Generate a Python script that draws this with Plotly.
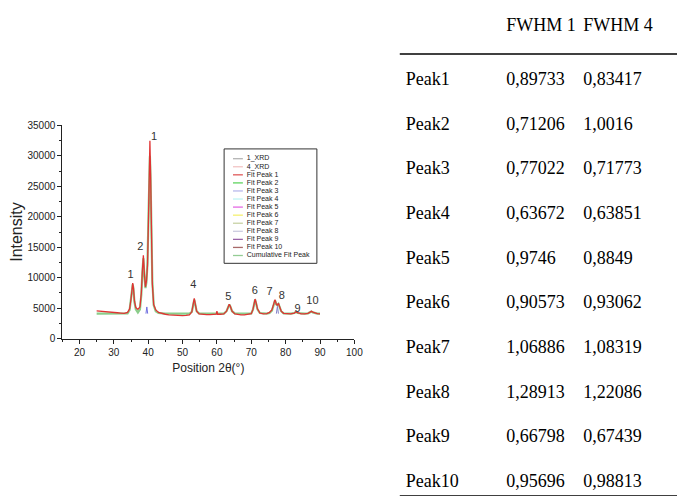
import plotly.graph_objects as go

# ---------------- data ----------------
two_theta = [25, 26, 27, 28, 29, 30, 31, 32, 33, 34, 34.6, 35.0, 35.3, 35.5, 35.7, 36.0, 36.4, 37.0,
             37.6, 38.0, 38.3, 38.6, 38.9, 39.2, 39.5, 39.8, 40.1, 40.3, 40.5, 40.7, 40.9, 41.2, 41.6,
             42.2, 43, 44, 45, 46, 47, 48, 49, 50, 51, 52, 52.7, 53.1, 53.4, 53.7, 54.1, 54.8, 56, 57,
             58, 59, 59.8, 60.0, 60.2, 61, 62, 62.8, 63.3, 63.6, 63.9, 64.4, 65.2, 66, 67, 68, 69, 70,
             70.5, 70.9, 71.1, 71.4, 71.8, 72.5, 73.5, 74.5, 75.3, 76.0, 76.5, 76.9, 77.3, 77.6, 77.9,
             78.2, 78.7, 79.4, 80.5, 81.5, 82.5, 83.0, 83.5, 84.5, 85.5, 86.5, 87.1, 87.5, 87.9, 88.5,
             89.2, 90]

intensity_xrd = [4550, 4480, 4420, 4380, 4330, 4280, 4250, 4200, 4150, 4300, 4900, 6500, 8300, 9100,
                 8400, 6200, 5100, 4800, 5200, 7500, 11000, 13700, 10500, 8500, 9500, 12000, 20000,
                 28000, 32500, 27000, 18000, 9000, 5600, 4700, 4300, 4100, 4000, 3900, 3850, 3800,
                 3780, 3760, 3800, 3900, 4400, 5700, 6600, 5700, 4500, 4050, 3950, 3950, 3950, 3980,
                 4000, 4500, 4000, 4000, 4050, 4500, 5300, 5650, 5300, 4500, 4050, 3950, 3900, 3900,
                 3950, 4100, 4800, 6100, 6500, 5900, 4900, 4200, 4050, 4100, 4300, 4700, 5600, 6400,
                 5600, 5500, 5800, 5300, 4500, 4150, 4050, 4050, 4200, 4400, 4250, 4050, 4050, 4150,
                 4350, 4500, 4350, 4200, 4100, 4050]

cumulative_fit = [4100, 4100, 4100, 4100, 4100, 4100, 4100, 4100, 4100, 4150, 4700, 6300, 8100, 8900,
                  8200, 6000, 4800, 4300, 4800, 7200, 10800, 13200, 10200, 8300, 9300, 12500, 20500,
                  27500, 30000, 26000, 19000, 9500, 5500, 4500, 4200, 4100, 4100, 4100, 4100, 4100,
                  4100, 4100, 4100, 4100, 4400, 5600, 6400, 5600, 4500, 4150, 4100, 4100, 4100, 4100,
                  4100, 4100, 4100, 4100, 4100, 4500, 5300, 5600, 5300, 4500, 4150, 4100, 4100, 4100,
                  4100, 4150, 4800, 6000, 6400, 5800, 4800, 4200, 4100, 4100, 4200, 4600, 5500, 6300,
                  5600, 5500, 5700, 5200, 4500, 4150, 4100, 4100, 4200, 4350, 4200, 4100, 4100, 4150,
                  4300, 4450, 4300, 4150, 4100, 4100]

fit_peak3_x = [39.35, 39.6, 39.85]
fit_peak3_y = [4100, 5200, 4100]
fit_peak8_x = [77.3, 77.6, 77.9]
fit_peak8_y = [4100, 5300, 4100]

peak_label_x = [34.9, 37.7, 41.7, 53.1, 63.3, 71.0, 75.3, 78.9, 83.5, 87.8]
peak_label_y = [10400, 15000, 33000, 8700, 6800, 7800, 7600, 7000, 4800, 6100]
peak_label_text = ["1", "2", "1", "4", "5", "6", "7", "8", "9", "10"]

legend_names = ["1_XRD", "4_XRD", "Fit Peak 1", "Fit Peak 2", "Fit Peak 3", "Fit Peak 4",
                "Fit Peak 5", "Fit Peak 6", "Fit Peak 7", "Fit Peak 8", "Fit Peak 9",
                "Fit Peak 10", "Cumulative Fit Peak"]
legend_colors = ["#b4b4b4", "#f2c4c4", "#e05a5a", "#5fd45f", "#b8b8ec", "#bff4f4", "#e46ae4",
                 "#f4f070", "#c8d2a4", "#cccce0", "#9a64a8", "#a86a6a", "#94cc94"]

table_headers = ["", "FWHM 1", "FWHM 4"]
table_peaks = ["Peak1", "Peak2", "Peak3", "Peak4", "Peak5", "Peak6", "Peak7", "Peak8", "Peak9", "Peak10"]
fwhm_1 = ["0,89733", "0,71206", "0,77022", "0,63672", "0,9746", "0,90573", "1,06886", "1,28913",
          "0,66798", "0,95696"]
fwhm_4 = ["0,83417", "1,0016", "0,71773", "0,63851", "0,8849", "0,93062", "1,08319", "1,22086",
          "0,67439", "0,98813"]

# ---------------- layout constants ----------------
W, H = 685, 496
col_x = [403, 505, 583]
header_y = 14
row_y0, row_step = 69, 45.7
rule_top, rule_bottom = 42, 494
rule_x0 = 397
leg_box = (219, 139, 313, 256)
leg_y0, leg_step = 149, 8.25
leg_line = (228, 238)
leg_text_x = 242

fig = go.Figure()

# data curves on the chart axes
fig.add_trace(go.Scatter(x=two_theta, y=cumulative_fit, mode="lines",
                         line=dict(color="rgba(125,200,125,0.9)", width=2.2), showlegend=False))
fig.add_trace(go.Scatter(x=two_theta, y=intensity_xrd, mode="lines",
                         line=dict(color="#e03434", width=1.3), showlegend=False, hoverinfo="skip"))
fig.add_trace(go.Scatter(x=fit_peak3_x, y=fit_peak3_y, mode="lines",
                         line=dict(color="#7070e0", width=1), showlegend=False))
fig.add_trace(go.Scatter(x=fit_peak8_x, y=fit_peak8_y, mode="lines",
                         line=dict(color="#8080c8", width=1), showlegend=False))
fig.add_trace(go.Scatter(x=peak_label_x, y=peak_label_y, mode="text", text=peak_label_text,
                         textfont=dict(family="Arial, Liberation Sans", size=11, color="#333333"),
                         showlegend=False))

# custom legend (overlay pixel axes)
for i, (name, color) in enumerate(zip(legend_names, legend_colors)):
    yy = leg_y0 + i * leg_step
    fig.add_trace(go.Scatter(x=list(leg_line), y=[yy, yy], mode="lines", xaxis="x2", yaxis="y2",
                             line=dict(color=color, width=1.3), showlegend=False, hoverinfo="skip"))
fig.add_trace(go.Scatter(x=[leg_text_x] * len(legend_names),
                         y=[leg_y0 + i * leg_step for i in range(len(legend_names))],
                         mode="text", text=legend_names, textposition="middle right",
                         textfont=dict(family="Arial, Liberation Sans", size=7, color="#222222"),
                         xaxis="x2", yaxis="y2", showlegend=False))

# table text
serif = dict(family="Liberation Serif, Times New Roman", size=18, color="black")
fig.add_trace(go.Scatter(x=col_x, y=[header_y] * 3, mode="text", text=table_headers,
                         textposition="middle right", textfont=serif,
                         xaxis="x2", yaxis="y2", showlegend=False))
for col, values in zip(col_x, [table_peaks, fwhm_1, fwhm_4]):
    fig.add_trace(go.Scatter(x=[col] * len(values),
                             y=[row_y0 + i * row_step for i in range(len(values))],
                             mode="text", text=values, textposition="middle right", textfont=serif,
                             xaxis="x2", yaxis="y2", showlegend=False))

shapes = [
    dict(type="rect", xref="x2", yref="y2", x0=leg_box[0], y0=leg_box[1], x1=leg_box[2], y1=leg_box[3],
         line=dict(color="#333333", width=1)),
    dict(type="line", xref="x2", yref="y2", x0=rule_x0, x1=W, y0=rule_top, y1=rule_top,
         line=dict(color="black", width=1.5)),
    dict(type="line", xref="x2", yref="y2", x0=rule_x0, x1=W, y0=rule_bottom, y1=rule_bottom,
         line=dict(color="black", width=1.5)),
]

axis_font = dict(family="Arial, Liberation Sans", size=10, color="#222222")
fig.update_layout(
    width=W, height=H, margin=dict(l=0, r=0, t=0, b=0),
    paper_bgcolor="white", plot_bgcolor="rgba(0,0,0,0)",
    showlegend=False, shapes=shapes,
    xaxis=dict(domain=[55 / W, 351 / W], range=[15, 100], tick0=0, dtick=10, tickformat="d",
               showgrid=False, zeroline=False, showline=True, linecolor="#222222", linewidth=1,
               ticks="outside", ticklen=4, tickcolor="#222222", tickfont=axis_font,
               minor=dict(dtick=5, ticks="outside", ticklen=2, tickcolor="#222222"),
               title=dict(text="Position 2θ(°)", font=dict(family="Arial, Liberation Sans", size=12,
                                                           color="#222222"), standoff=6),
               anchor="y"),
    yaxis=dict(domain=[(H - 333) / H, (H - 115) / H], range=[0, 35000], dtick=5000, tickformat="d",
               showgrid=False, zeroline=False, showline=True, linecolor="#222222", linewidth=1,
               ticks="outside", ticklen=4, tickcolor="#222222", tickfont=axis_font,
               minor=dict(dtick=2500, ticks="outside", ticklen=2, tickcolor="#222222"),
               title=dict(text="Intensity", font=dict(family="Arial, Liberation Sans", size=16,
                                                      color="#222222"), standoff=4),
               anchor="x"),
    xaxis2=dict(domain=[0, 1], range=[0, W], visible=False, anchor="y2", fixedrange=True),
    yaxis2=dict(domain=[0, 1], range=[H, 0], visible=False, anchor="x2", fixedrange=True),
)

fig.write_html("out.html")
